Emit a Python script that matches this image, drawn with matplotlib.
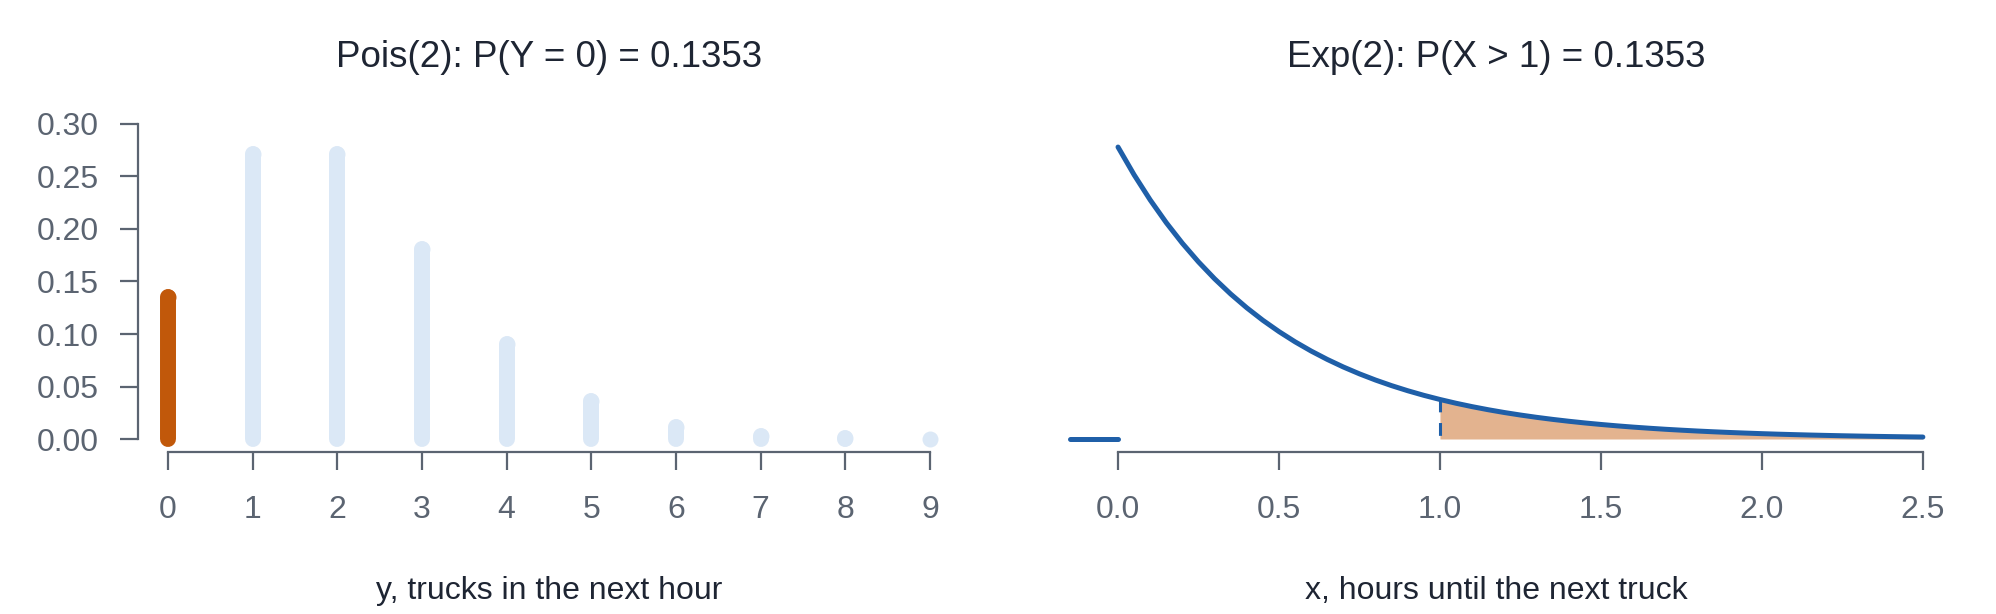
import numpy as np
import matplotlib
matplotlib.use("Agg")
import matplotlib.pyplot as plt

plt.rcParams['font.family'] = ['Liberation Sans', 'DejaVu Sans']
plt.rcParams['path.simplify'] = False

# Pois(2) pmf, y = 0..9
counts = [0, 1, 2, 3, 4, 5, 6, 7, 8, 9]
pmf = [0.1353, 0.2707, 0.2707, 0.1804, 0.0902, 0.0361, 0.0120, 0.0034, 0.0009, 0.0002]
highlight = 0

# Exp(2) density read every 0.05 hours
hours = [0.00, 0.05, 0.10, 0.15, 0.20, 0.25, 0.30, 0.35, 0.40, 0.45,
         0.50, 0.55, 0.60, 0.65, 0.70, 0.75, 0.80, 0.85, 0.90, 0.95,
         1.00, 1.05, 1.10, 1.15, 1.20, 1.25, 1.30, 1.35, 1.40, 1.45,
         1.50, 1.55, 1.60, 1.65, 1.70, 1.75, 1.80, 1.85, 1.90, 1.95,
         2.00, 2.05, 2.10, 2.15, 2.20, 2.25, 2.30, 2.35, 2.40, 2.45, 2.50]
dens = [2.0000, 1.8097, 1.6375, 1.4816, 1.3406, 1.2131, 1.0976, 0.9932, 0.8987, 0.8131,
        0.7358, 0.6657, 0.6024, 0.5451, 0.4932, 0.4463, 0.4038, 0.3654, 0.3306, 0.2991,
        0.2707, 0.2449, 0.2216, 0.2005, 0.1814, 0.1642, 0.1485, 0.1344, 0.1216, 0.1100,
        0.0996, 0.0901, 0.0815, 0.0738, 0.0667, 0.0604, 0.0546, 0.0494, 0.0447, 0.0405,
        0.0366, 0.0331, 0.0300, 0.0271, 0.0246, 0.0222, 0.0201, 0.0182, 0.0165, 0.0149,
        0.0135]
cut = 1.0

left_ticks = [0.00, 0.05, 0.10, 0.15, 0.20, 0.25, 0.30]
right_ticks = [0.0, 0.5, 1.0, 1.5, 2.0, 2.5]

axis_col = '#5b6471'
tick_col = '#5b6471'
text_col = '#1e2533'
orange = '#c1580a'
light = '#dbe8f6'
blue = '#1f5fa8'
fill_col = '#e3b38f'

W, H = 1996, 614
fig = plt.figure(figsize=(W / 100, H / 100), dpi=100)


def frac(x0, x1, ytop, ybot):
    return [x0 / W, 1 - ybot / H, (x1 - x0) / W, (ybot - ytop) / H]


ax1 = fig.add_axes(frac(137.5, 960.5, 111, 451.6))
ax2 = fig.add_axes(frac(1035.6, 1957, 111, 451.6))

# left: pmf as thick rounded segments (dot at each top keeps tiny ones visible)
for y, p in zip(counts, pmf):
    c = orange if y == highlight else light
    ax1.plot([y, y], [0, p], color=c, lw=11.5, solid_capstyle='round', zorder=2)
    ax1.plot([y], [p], 'o', color=c, ms=11.5, mew=0, zorder=2)

ax1.set_xlim(-0.36, 9.36)
ax1.set_ylim(-0.0117, 0.312)
ax1.set_xticks(counts)
ax1.set_yticks(left_ticks)
ax1.set_yticklabels([f"{v:.2f}" for v in left_ticks])
ax1.spines['left'].set_bounds(0, 0.30)
ax1.spines['bottom'].set_bounds(0, 9)
for s in ['top', 'right']:
    ax1.spines[s].set_visible(False)
ax1.set_title("Pois(2): P(Y = 0) = 0.1353", fontsize=26.5, color=text_col, pad=32)
ax1.set_xlabel("y, trucks in the next hour", fontsize=23, color=text_col, labelpad=37)

# right: density curve with shaded tail
hx = np.array(hours)
hd = np.array(dens)
tail = hx >= cut
ax2.fill_between(hx[tail], 0, hd[tail], color=fill_col, lw=0, zorder=1)
ax2.plot([cut, cut], [hd[tail][0], 0], color=blue, lw=2.2, ls=(0, (4.2, 3.5)), zorder=2)
ax2.plot(hx, hd, color=blue, lw=3.6, solid_capstyle='round', zorder=3)
ax2.plot([-0.15, 0], [0, 0], color=blue, lw=3.6, solid_capstyle='round', zorder=3)

ax2.set_xlim(-0.256, 2.606)
ax2.set_ylim(-0.0863, 2.247)
ax2.set_xticks(right_ticks)
ax2.set_xticklabels([f"{v:.1f}" for v in right_ticks])
ax2.set_yticks([])
ax2.spines['bottom'].set_bounds(0, 2.5)
for s in ['top', 'right', 'left']:
    ax2.spines[s].set_visible(False)
ax2.set_title("Exp(2): P(X > 1) = 0.1353", fontsize=26.5, color=text_col, pad=32)
ax2.set_xlabel("x, hours until the next truck", fontsize=23, color=text_col, labelpad=37)

for ax in (ax1, ax2):
    for s in ax.spines.values():
        s.set_color(axis_col)
        s.set_linewidth(1.6)
    ax.tick_params(axis='both', colors=axis_col, labelcolor=tick_col,
                   labelsize=23, length=13, width=1.6, pad=15)
    ax.tick_params(axis='x', pad=18)

fig.savefig("out.png", dpi=100)
